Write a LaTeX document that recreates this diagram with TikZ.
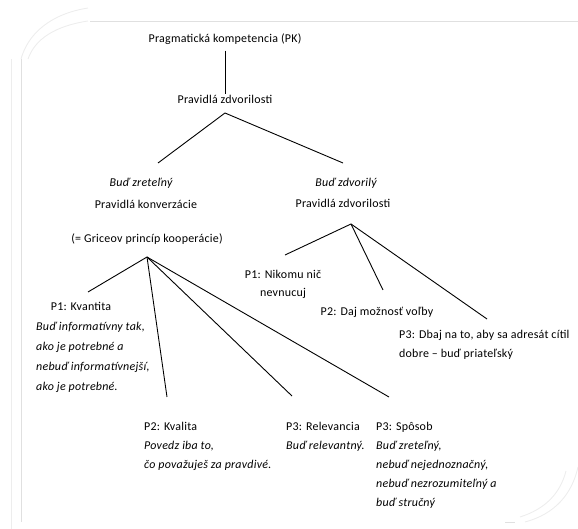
\documentclass[tikz,border=0pt]{standalone}
\usepackage{fontspec}
\setmainfont[LetterSpace=2]{Carlito}
\begin{document}
\begin{tikzpicture}[line join=bevel,
  txt/.style={draw=none,inner sep=1pt,font=\fontsize{12}{19}\selectfont},
  blk/.style={txt,align=left,anchor=west},
  edge/.style={black,line width=0.9bp},
  frm/.style={black!12,line width=0.9bp}]
\useasboundingbox (0bp,0bp) rectangle (578bp,529bp);
%% faint frame
\draw [frm] (90bp,508bp) -- (578bp,508bp);
\draw [frm] (21bp,470bp) -- (21bp,7bp);
\draw [frm,black!7] (11bp,470bp) -- (11bp,0bp);
\draw [frm,black!7] (88bp,521bp) ..controls (50bp,515bp) and (28bp,495bp) .. (21bp,470bp);
\draw [frm,black!7] (88bp,508bp) ..controls (55bp,503bp) and (35bp,490bp) .. (28bp,470bp);
\draw [frm,black!7] (578bp,62bp) ..controls (572bp,35bp) and (555bp,15bp) .. (525bp,7bp);
\draw [frm,black!7] (566bp,58bp) ..controls (560bp,35bp) and (545bp,20bp) .. (520bp,12bp);
\draw [frm] (505bp,7bp) -- (515bp,7bp);
%%
\node (pk) at (225bp,490bp) [txt] {Pragmatická kompetencia (PK)};
  \node (pz) at (225bp,430bp) [txt] {Pravidlá zdvorilosti};
  \node (zret) at (141bp,346bp) [txt,font=\fontsize{12}{19}\selectfont\itshape] {Buď zreteľný};
  \node (konv) at (146bp,325bp) [txt] {Pravidlá konverzácie};
  \node (grice) at (147bp,290bp) [txt] {(= Griceov princíp kooperácie)};
  \node (zdvor) at (346bp,346bp) [txt,font=\fontsize{12}{19}\selectfont\itshape] {Buď zdvorilý};
  \node (pz2) at (343bp,326bp) [txt] {Pravidlá zdvorilosti};
  \node (kvant) at (81bp,223bp) [txt] {P1: Kvantita};
  \node (kvanttxt) at (35bp,172bp) [blk,font=\fontsize{12}{20}\selectfont\itshape] {Buď informatívny tak,\\ ako je potrebné a\\ nebuď informatívnejší,\\ ako je potrebné.};
  \node (nikomu) at (283bp,245bp) [txt,align=center,font=\fontsize{12}{18}\selectfont] {P1: Nikomu nič\\ nevnucuj};
  \node (volba) at (377bp,217bp) [txt] {P2: Daj možnosť voľby};
  \node (dbaj) at (398bp,184bp) [blk] {P3: Dbaj na to, aby sa adresát cítil\\ dobre -- buď priateľský};
  \node (kval) at (143bp,83bp) [blk] {P2: Kvalita\\ \textit{Povedz iba to,}\\ \textit{čo považuješ za pravdivé.}};
  \node (relev) at (285bp,92bp) [blk] {P3: Relevancia\\ \textit{Buď relevantný.}};
  \node (sposob) at (375bp,64bp) [blk] {P3: Spôsob\\ \textit{Buď zreteľný,}\\ \textit{nebuď nejednoznačný,}\\ \textit{nebuď nezrozumiteľný a}\\ \textit{buď stručný}};
%% fan points
\coordinate (top) at (225bp,416bp);
  \coordinate (la) at (147bp,272bp);
  \coordinate (ra) at (351bp,305bp);
  \coordinate (zret-e) at (158bp,366bp);
  \coordinate (zdvor-e) at (343bp,366bp);
  \coordinate (kvant-e) at (88bp,237bp);
  \coordinate (kval-e) at (167bp,132bp);
  \coordinate (relev-e) at (292bp,133bp);
  \coordinate (sposob-e) at (389bp,132bp);
  \coordinate (nikomu-e) at (285bp,274bp);
  \coordinate (volba-e) at (383bp,239bp);
  \coordinate (dbaj-e) at (487bp,210bp);
  \draw [edge] ([yshift=-5bp]pk.south) -- (pz.north);
  \draw [edge] (top) -- (zret-e);
  \draw [edge] (top) -- (zdvor-e);
  \draw [edge] (la) -- (kvant-e);
  \draw [edge] (la) -- (kval-e);
  \draw [edge] (la) -- (relev-e);
  \draw [edge] (la) -- (sposob-e);
  \draw [edge] (ra) -- (nikomu-e);
  \draw [edge] (ra) -- (volba-e);
  \draw [edge] (ra) -- (dbaj-e);
%
\end{tikzpicture}
\end{document}
